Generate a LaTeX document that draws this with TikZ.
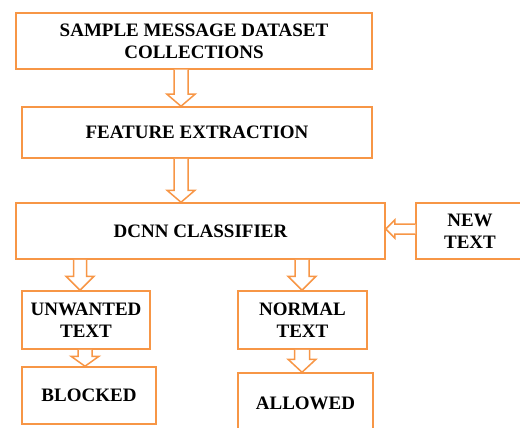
\documentclass[tikz,border=0pt]{standalone}
\usepackage{fontspec}
\setmainfont{Liberation Serif}
\usetikzlibrary{calc}
\definecolor{org}{HTML}{F79646}
\tikzset{
  box/.style={draw=org, line width=1.5pt, fill=white, rectangle, inner sep=0pt,
    align=center, font=\fontsize{19}{22}\selectfont\bfseries},
  arr/.style={draw=org, line width=1.5pt, line join=miter, fill=white}
}
% vertical hollow block arrow: x, from node, to node, shaft half, head half, head length
\newcommand\vblockarrow[6]{%
  \draw[arr] let \p1=(#2.south), \p2=(#3.north) in
    (#1pt-#4pt,\y1) -- (#1pt-#4pt,\y2+#6pt) -- (#1pt-#5pt,\y2+#6pt) -- (#1pt,\y2)
    -- (#1pt+#5pt,\y2+#6pt) -- (#1pt+#4pt,\y2+#6pt) -- (#1pt+#4pt,\y1);}
\begin{document}
\begin{tikzpicture}[x=1pt,y=-1pt]
\useasboundingbox (0,0) rectangle (520,428);
\clip (0,0) rectangle (520,428);
\node[box, minimum width=356pt, minimum height=56pt] (b1) at (194,41) {SAMPLE MESSAGE DATASET\\COLLECTIONS};
\node[box, minimum width=350pt, minimum height=51pt] (b2) at (197,132.5) {FEATURE EXTRACTION};
\node[box, minimum width=369pt, minimum height=56pt] (b3) at (200.5,231) {DCNN CLASSIFIER};
\node[box, minimum width=108pt, minimum height=56pt] (nt) at (470,231) {NEW\\TEXT};
\node[box, minimum width=128pt, minimum height=58pt] (uw) at (86,320) {UNWANTED\\TEXT};
\node[box, minimum width=129pt, minimum height=58pt] (nm) at (302.5,320) {NORMAL\\TEXT};
\node[box, minimum width=134pt, minimum height=57pt] (bl) at (89,395.5) {BLOCKED};
\node[box, minimum width=135pt, minimum height=60pt] (al) at (305.5,403) {ALLOWED};
\vblockarrow{181}{b1}{b2}{7}{14}{12}
\vblockarrow{181}{b2}{b3}{7}{14}{12}
\vblockarrow{80}{b3}{uw}{6.5}{14}{14}
\vblockarrow{302}{b3}{nm}{7}{14}{14}
\vblockarrow{85}{uw}{bl}{7}{14}{10}
\vblockarrow{302}{nm}{al}{7.5}{14}{13}
\draw[arr] let \p1=(nt.west), \p2=(b3.east) in
  (\x1,-229pt+5pt) -- (\x2+9pt,-229pt+5pt) -- (\x2+9pt,-229pt+9pt) -- (\x2,-229pt)
  -- (\x2+9pt,-229pt-9pt) -- (\x2+9pt,-229pt-5pt) -- (\x1,-229pt-5pt);
\end{tikzpicture}
\end{document}
